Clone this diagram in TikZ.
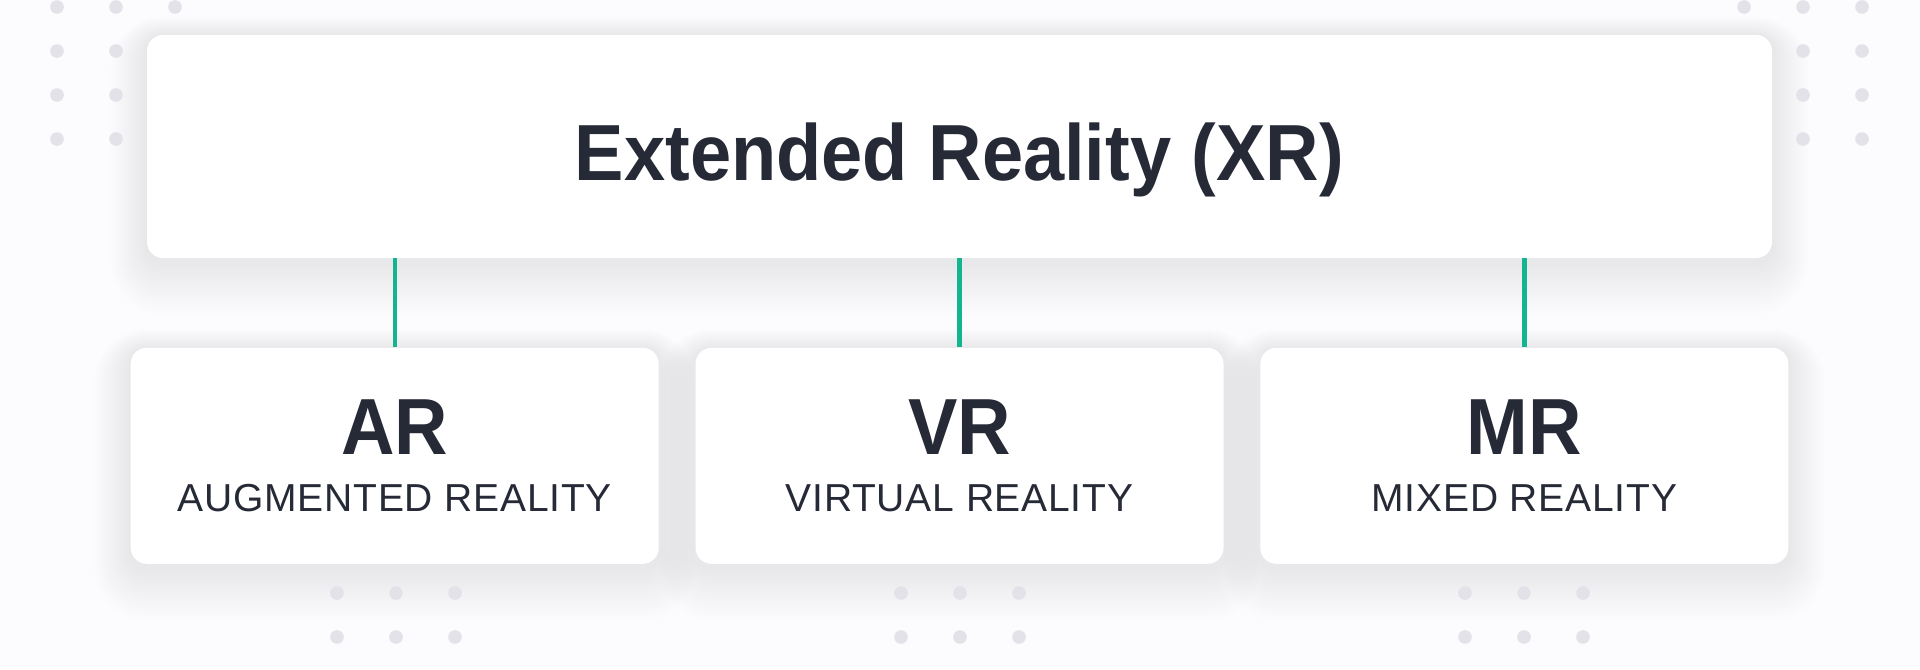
\documentclass[tikz,border=0pt]{standalone}
\usepackage{fontspec}
\setmainfont{Liberation Sans}
\newfontfamily\headfont[FakeStretch=0.93]{Liberation Sans}
\newfontfamily\capsfont[LetterSpace=2.0]{Liberation Sans}
\usepackage{tikz}
\usetikzlibrary{positioning}

\definecolor{ink}{HTML}{262936}
\definecolor{xrgreen}{HTML}{12B58F}
\definecolor{dotgray}{HTML}{E3E2E8}
\definecolor{paper}{HTML}{FCFBFE}
\definecolor{shadegray}{HTML}{8C8CA0}

\pgfdeclarelayer{back}
\pgfsetlayers{back,main}

\newcommand{\subline}[1]{{\capsfont\mdseries\fontsize{19.5pt}{28.5pt}\selectfont #1}}

\begin{document}
\begin{tikzpicture}[x=0.5pt,y=-0.5pt,node distance=44.5pt and 18pt,
                    card/.style={fill=white,draw=none,rounded corners=8pt,text=ink,align=center},
                    sub/.style={card,minimum width=264pt,minimum height=108pt,
                      font=\headfont\bfseries\fontsize{39.8pt}{28.5pt}\selectfont},
                    link/.style={draw=xrgreen,line width=2.2pt},
                    dot/.style={fill=dotgray},
                    shade/.style={fill=shadegray,opacity=0.008}]
  \useasboundingbox (0,0) rectangle (1920,669);

  % dot grids
  \foreach \i in {0,1,2}
    \foreach \j in {0,...,3} {
      \fill[dot] (57+59*\i,7+44*\j) circle (3.4pt);
      \fill[dot] (1744+59*\i,7+44*\j) circle (3.4pt);
    }
  \foreach \c in {396,960,1524}
    \foreach \i in {-1,0,1}
      \foreach \j in {0,1}
        \fill[dot] (\c+59*\i,593+44*\j) circle (3.4pt);

  \node[card,minimum width=812.5pt,minimum height=111.5pt,text height=33.5pt,text depth=0pt,
        font=\headfont\bfseries\fontsize{39.8pt}{44pt}\selectfont] (xr) at (959.5,146.5) {Extended Reality (XR)};

  \node[sub] (vr) [below=of xr] {VR\\\subline{VIRTUAL REALITY}};
  \node[sub] (ar) [left=of vr]  {AR\\\subline{AUGMENTED REALITY}};
  \node[sub] (mr) [right=of vr] {MR\\\subline{MIXED REALITY}};

  \draw[link] (ar.north) -- (ar.north |- xr.south);
  \draw[link] (vr.north) -- (xr.south);
  \draw[link] (mr.north) -- (mr.north |- xr.south);

  % soft shadows under the cards
  \begin{pgfonlayer}{back}
    \fill[paper] (0,0) rectangle (1920,669);
    \foreach \n in {xr,ar,vr,mr}
      \foreach \k in {1,...,20}
        \fill[shade,rounded corners=8pt+\k*0.9pt]
          ([shift={(-\k*0.9pt,\k*0.5pt-1pt)}]\n.north west) rectangle
          ([shift={(\k*0.9pt,-\k*1.3pt-2pt)}]\n.south east);
  \end{pgfonlayer}
\end{tikzpicture}
\end{document}
